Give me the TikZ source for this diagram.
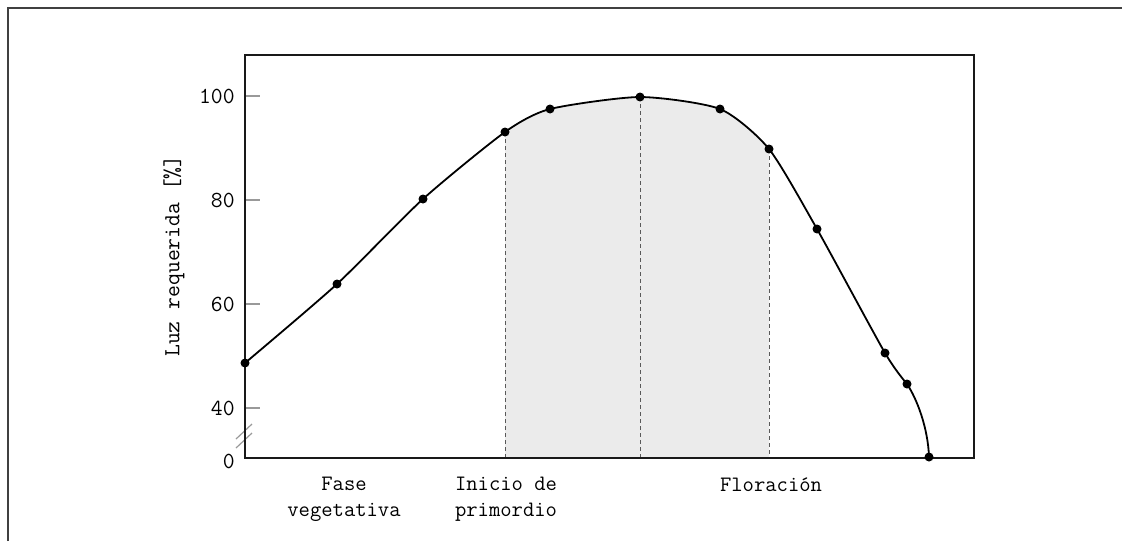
\documentclass[tikz,border=0pt]{standalone}
\usetikzlibrary{positioning}

\begin{document}
\begin{tikzpicture}[x=0.5pt, y=-0.5pt,
		datadot/.style={circle, fill=black, inner sep=0pt, minimum size=4.5pt},
		ticklbl/.style={anchor=east, inner sep=0pt, font=\fontsize{11.5}{13}\ttfamily},
		phaselbl/.style={anchor=north, align=center, inner sep=0pt, font=\fontsize{11}{13}\ttfamily},
		tickmark/.style={black!40, line width=0.7pt},
		guide/.style={black!65, line width=0.4pt, dash pattern=on 2pt off 1.5pt},
		curveline/.style={line width=0.9pt, smooth, tension=0.4},
	]
		\useasboundingbox (0,0) rectangle (1122,541);

		% frame
		\draw[black!75, line width=1pt] (7.5,541) -- (7.5,7.5) -- (1122,7.5);

		% data points
		\coordinate (p1)  at (245,363);
		\coordinate (p2)  at (337,284);
		\coordinate (p3)  at (423,199);
		\coordinate (p4)  at (505,132);
		\coordinate (p5)  at (550,109);
		\coordinate (p6)  at (640,97);
		\coordinate (p7)  at (720,109);
		\coordinate (p8)  at (769,149);
		\coordinate (p9)  at (817,229);
		\coordinate (p10) at (885,353);
		\coordinate (p11) at (907,384);
		\coordinate (p12) at (929,457);
		\coordinate (xaxis) at (245,458);

		% shaded part
		\begin{scope}
			\clip (p4 |- 0,50) rectangle (p8 |- xaxis);
			\fill[black!8] plot[smooth, tension=0.4] coordinates {(p1) (p2) (p3) (p4) (p5) (p6) (p7) (p8) (p9) (p10)} |- (xaxis) -- cycle;
		\end{scope}

		% guides
		\draw[guide] (p4) -- (p4 |- xaxis);
		\draw[guide] (p6) -- (p6 |- xaxis);
		\draw[guide] (p8) -- (p8 |- xaxis);

		% ticks
		\foreach \v/\yy in {100/96, 80/200, 60/304, 40/408} {
			\draw[tickmark] (245,\yy) -- (260,\yy);
			\node[ticklbl] at (235,\yy) {\v};
		}
		\node[ticklbl] (zero) at (235,461) {0};
		\draw[black!40, line width=0.6pt] (236,439) -- (252,424);
		\draw[black!40, line width=0.6pt] (236,448) -- (252,433);

		% box
		\draw[black!90, line width=1pt] (245,55) rectangle (974,458);

		% curve
		\draw[curveline] plot coordinates {(p1) (p2) (p3) (p4) (p5) (p6) (p7) (p8) (p9) (p10) (p11)}
			.. controls (917,399) and (928,428) .. (p12);
		\foreach \i in {1,...,12}
			\node[datadot] at (p\i) {};

		% labels
		\node[rotate=90, font=\fontsize{11.5}{13}\ttfamily] (ylbl) at (174,256) {Luz requerida [\%]};
		\node[phaselbl] (veg)  at (344,477) {Fase\\vegetativa};
		\node[phaselbl] (prim) at (506,477) {Inicio de\\primordio};
		\node[phaselbl] (flor) at (771,477) {Floración};
	\end{tikzpicture}
\end{document}
